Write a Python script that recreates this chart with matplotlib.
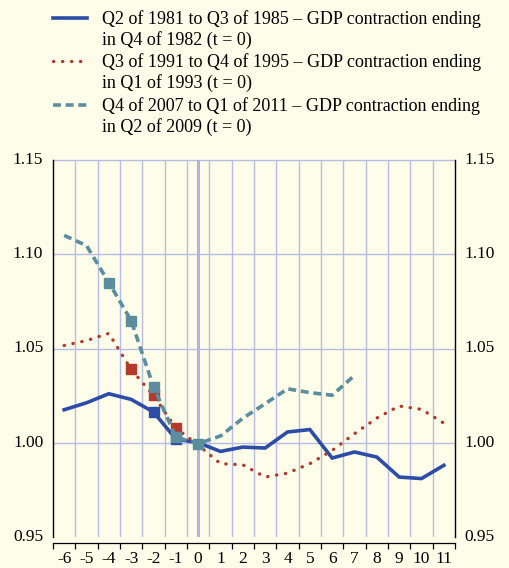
import matplotlib
matplotlib.use("Agg")
import matplotlib.pyplot as plt
from matplotlib.lines import Line2D
import numpy as np

periods = [-6, -5, -4, -3, -2, -1, 0, 1, 2, 3, 4, 5, 6, 7, 8, 9, 10, 11]
s1981 = [1.0175, 1.0212, 1.026, 1.023, 1.0163, 1.002, 1.000, 0.9954, 0.9977, 0.9972,
         1.0057, 1.007, 0.9919, 0.9951, 0.9924, 0.9818, 0.981, 0.988]
s1991 = [1.0516, 1.0542, 1.058, 1.0389, 1.0251, 1.0078, 0.9988, 0.9889, 0.9883, 0.9818,
         0.9839, 0.9889, 0.9959, 1.0048, 1.0131, 1.0195, 1.0177, 1.0104]
s2007 = [1.110, 1.1046, 1.085, 1.0648, 1.0297, 1.003, 0.9995, 1.0036, 1.013, 1.0207,
         1.0286, 1.0266, 1.0252, 1.0357]
marks1981 = [-2, -1]
marks1991 = [-3, -2, -1]
marks2007 = [-4, -3, -2, -1, 0]
labels = ["Q2 of 1981 to Q3 of 1985 \u2013 GDP contraction ending\nin Q4 of 1982 (t = 0)",
          "Q3 of 1991 to Q4 of 1995 \u2013 GDP contraction ending\nin Q1 of 1993 (t = 0)",
          "Q4 of 2007 to Q1 of 2011 \u2013 GDP contraction ending\nin Q2 of 2009 (t = 0)"]

BG = "#FEFDE9"
BLUE = "#2C4CA8"
RED = "#B3392C"
TEAL = "#5A8E9E"
GRID = "#B7BBE8"

plt.rcParams['font.family'] = ['Liberation Serif', 'DejaVu Serif']
fig = plt.figure(figsize=(5.09, 5.68), dpi=100, facecolor=BG)
ax = fig.add_axes([53/509, 1-537/568, 402/509, 377/568], facecolor=BG)

n = len(periods)
xpos = np.arange(n)
idx = {p: i for i, p in enumerate(periods)}

# grid
for b in np.arange(0.5, n - 0.5, 1.0):
    ax.axvline(b, color=GRID, lw=1.0, zorder=1)
for yv in [1.00, 1.05, 1.10, 1.15]:
    ax.axhline(yv, color=GRID, lw=1.0, zorder=1, clip_on=False)
ax.axvline(idx[0], color="#AEB3EA", lw=2.2, zorder=1)

ax.plot(xpos, s1981, color=BLUE, lw=2.6, zorder=3, solid_joinstyle='miter')
ax.plot(xpos, s1991, color=RED, lw=2.4, ls=(0, (0.1, 2.6)), dash_capstyle='round', zorder=4)
ax.plot(xpos[:len(s2007)], s2007, color=TEAL, lw=2.6, ls=(0, (2.2, 1.3)), zorder=5)

for marks, vals, c, z in [(marks1981, s1981, BLUE, 3.5), (marks1991, s1991, RED, 4.5),
                          (marks2007, s2007, TEAL, 5.5)]:
    mx = [idx[m] for m in marks]
    my = [vals[idx[m]] for m in marks]
    ax.plot(mx, my, ls='none', marker='s', ms=6.5, color=c, zorder=z)

ax.set_xlim(-0.5, n - 0.5)
ax.set_ylim(0.95, 1.15)

ax.spines['top'].set_visible(False)
for s in ['left', 'right']:
    ax.spines[s].set_color('black')
    ax.spines[s].set_linewidth(1.0)
ax.spines['bottom'].set_position(('outward', 4))
ax.spines['bottom'].set_color('black')
ax.spines['bottom'].set_linewidth(0.9)

ax.set_xticks(np.arange(-0.5, n, 1.0))
ax.set_xticklabels([])
ax.tick_params(axis='x', which='major', direction='out', length=4, width=0.9, color='black')
ax.set_xticks(xpos, minor=True)
ax.set_xticklabels([str(p) for p in periods], minor=True)
ax.tick_params(axis='x', which='minor', length=0, pad=6, labelsize=12.5)

ax.set_yticks([0.95, 1.00, 1.05, 1.10, 1.15])
ax.set_yticklabels(["0.95", "1.00", "1.05", "1.10", "1.15"])
ax.tick_params(axis='y', length=0, labelsize=12.5, pad=7, labelleft=True, labelright=True)
ax.yaxis.set_ticks_position('both')
ax.tick_params(axis='y', which='both', length=0)
for lab in ax.get_yticklabels():
    lab.set_verticalalignment('center')

# legend
legend_rows = [(18, BLUE, '-', 2.6), (61, RED, (0, (0.1, 2.6)), 2.4), (105, TEAL, (0, (2.2, 1.3)), 2.6)]
for (ytop, c, ls, lw), lab in zip(legend_rows, labels):
    yf = 1 - ytop/568
    ln = Line2D([53/509, 87/509], [yf, yf], transform=fig.transFigure, color=c, lw=lw, ls=ls,
                dash_capstyle='round' if c == RED else 'butt')
    fig.add_artist(ln)
    fig.text(102/509, yf + 8/568, lab, fontsize=13, va='top', ha='left', linespacing=1.2)

fig.savefig("out.png", dpi=100, facecolor=BG)
